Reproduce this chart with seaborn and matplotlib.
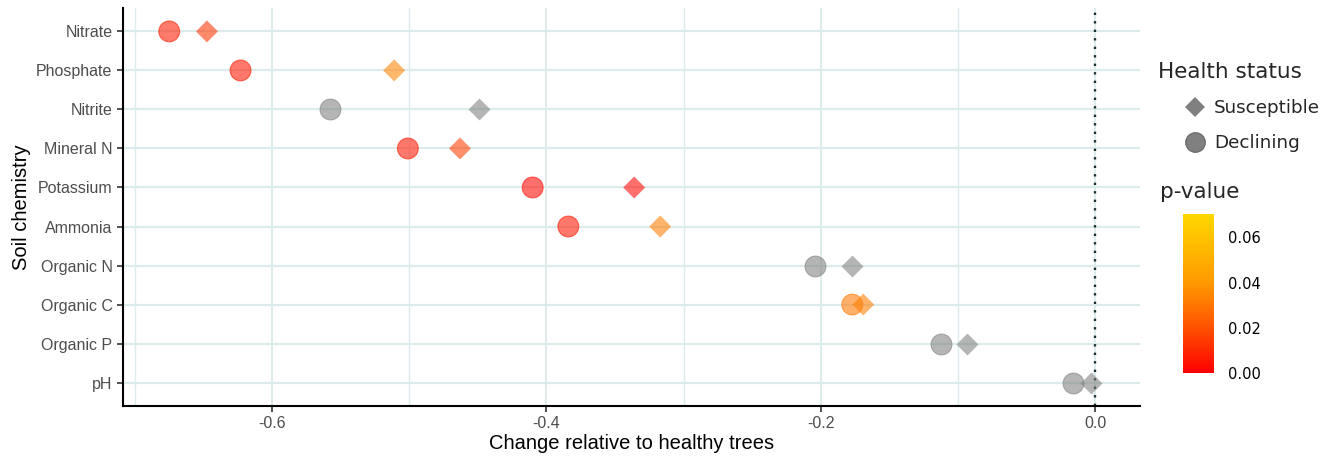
import numpy as np
import pandas as pd
import matplotlib
matplotlib.use("Agg")
import matplotlib.pyplot as plt
from matplotlib.colors import LinearSegmentedColormap, Normalize
from matplotlib.cm import ScalarMappable
from matplotlib.lines import Line2D
import seaborn as sns

# ---- data ----
categories = ["Nitrate", "Phosphate", "Nitrite", "Mineral N", "Potassium",
              "Ammonia", "Organic N", "Organic C", "Organic P", "pH"]
declining_change = [-0.675, -0.623, -0.558, -0.501, -0.410, -0.384, -0.204, -0.177, -0.1125, -0.016]
susceptible_change = [-0.6475, -0.511, -0.449, -0.463, -0.336, -0.317, -0.177, -0.169, -0.093, -0.003]
declining_p = [0.007, 0.006, np.nan, 0.006, 0.002, 0.006, np.nan, 0.031, np.nan, np.nan]
susceptible_p = [0.013, 0.034, np.nan, 0.015, 0.002, 0.032, np.nan, 0.032, np.nan, np.nan]
status_labels = ["Susceptible", "Declining"]
x_ticks = [-0.6, -0.4, -0.2, 0.0]
x_minor = [-0.7, -0.5, -0.3, -0.1]
cbar_ticks = [0.00, 0.02, 0.04, 0.06]
p_max = 0.0704

sns.set_theme(style="white")
plt.rcParams["axes.unicode_minus"] = False
plt.rcParams["font.family"] = ["Liberation Sans", "DejaVu Sans"]

rows = []
for i, c in enumerate(categories):
    rows.append(dict(chem=c, ypos=i, change=susceptible_change[i], p=susceptible_p[i], status="Susceptible"))
    rows.append(dict(chem=c, ypos=i, change=declining_change[i], p=declining_p[i], status="Declining"))
df = pd.DataFrame(rows)

cmap = LinearSegmentedColormap.from_list(
    "pv", [(0.0, "#FF0000"), (0.3, "#FF5500"), (0.57, "#FF9A00"), (1.0, "#FFD700")])
norm = Normalize(0.0, p_max)

fig = plt.figure(figsize=(13.35, 4.57), dpi=100)
ax = fig.add_axes([123 / 1335, (457 - 406) / 457, (1140 - 123) / 1335, (406 - 8) / 457])

grid_c = "#dcebeb"
for v in x_ticks + x_minor:
    ax.axvline(v, color=grid_c, lw=1.3 if v in x_ticks else 1.0, zorder=0)
for i in range(len(categories)):
    ax.axhline(i, color=grid_c, lw=1.6, zorder=0)
ax.axvline(0.0, color="#1a2e2e", lw=1.7, ls=(0, (1, 2.6)), zorder=1)

marker_map = {"Susceptible": "D", "Declining": "o"}
size_map = {"Susceptible": 125, "Declining": 225}
alpha = 0.58
for st in ["Declining", "Susceptible"]:
    sub = df[df.status == st]
    gray = sub[sub.p.isna()]
    col = sub[sub.p.notna()]
    sns.scatterplot(data=gray, x="change", y="ypos", color="#808080", marker=marker_map[st],
                    s=size_map[st], alpha=alpha, linewidth=0.8 if st == "Declining" else 0,
                    edgecolor="#808080", legend=False, ax=ax, zorder=3)
    sns.scatterplot(data=col, x="change", y="ypos", hue="p", palette=cmap, hue_norm=norm,
                    marker=marker_map[st], s=size_map[st], alpha=alpha,
                    linewidth=0.8 if st == "Declining" else 0, legend=False, ax=ax, zorder=3)
for coll in ax.collections:
    fc = coll.get_facecolors()
    if len(fc):
        coll.set_edgecolors(fc)

ax.set_xlim(-0.7087, 0.0328)
ax.set_ylim(len(categories) - 1 + 0.6, -0.6)
ax.set_xticks(x_ticks)
ax.set_xticklabels([f"{v:.1f}" for v in x_ticks])
ax.set_yticks(range(len(categories)))
ax.set_yticklabels(categories)
ax.tick_params(axis="both", colors="#333333", labelcolor="#4d4d4d", labelsize=11.5,
               length=4, width=1.2, left=True, bottom=True)
ax.set_xlabel("Change relative to healthy trees", fontsize=14.5, color="black", labelpad=2)
ax.set_ylabel("Soil chemistry", fontsize=14.5, color="black", labelpad=4)
for s in ["top", "right"]:
    ax.spines[s].set_visible(False)
for s in ["left", "bottom"]:
    ax.spines[s].set_color("black")
    ax.spines[s].set_linewidth(1.5)

# legend for shapes
fig.text(1158 / 1335, 1 - 72 / 457, "Health status", fontsize=15.5, family="DejaVu Sans",
         va="center", ha="left")
handles = [Line2D([], [], ls="none", marker="D", markersize=10.5, color="#808080",
                  markeredgewidth=0, label="Susceptible"),
           Line2D([], [], ls="none", marker="o", markersize=14, color="#808080",
                  markeredgecolor="#6e6e6e", label="Declining")]
leg = fig.legend(handles=handles, loc="upper left",
                 bbox_to_anchor=(1182 / 1335, 1 - 99 / 457), frameon=False,
                 prop={"family": "DejaVu Sans", "size": 13.2}, handletextpad=0.35,
                 labelspacing=0.95, borderaxespad=0, borderpad=0, handlelength=1.4)

# colorbar
cax = fig.add_axes([1183 / 1335, (457 - 373) / 457, 31 / 1335, 159 / 457])
cb = fig.colorbar(ScalarMappable(norm=norm, cmap=cmap), cax=cax)
cb.outline.set_visible(False)
cb.set_ticks(cbar_ticks)
cb.set_ticklabels([f"{v:.2f}" for v in cbar_ticks])
cax.tick_params(left=True, right=True, direction="in", color="white", length=6, width=0.8,
                labelsize=10.5, labelcolor="black", pad=10, labelfontfamily="DejaVu Sans")
fig.text(1160 / 1335, 1 - 192 / 457, "p-value", fontsize=15.5, family="DejaVu Sans",
         va="center", ha="left")

fig.savefig("out.png", dpi=100)
